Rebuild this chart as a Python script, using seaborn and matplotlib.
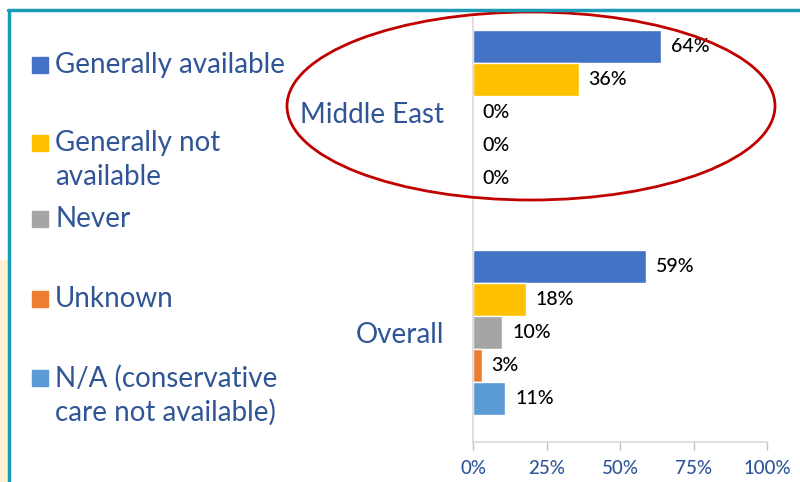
import pandas as pd
import seaborn as sns
import matplotlib.pyplot as plt
from matplotlib.patches import Ellipse, Rectangle
from matplotlib.lines import Line2D

regions = ['Middle East', 'Overall']
responses = ['Generally available', 'Generally not available', 'Never', 'Unknown',
             'N/A (conservative care not available)']
legend_labels = ['Generally available', 'Generally not\navailable', 'Never', 'Unknown',
                 'N/A (conservative\ncare not available)']
middle_east = [64, 36, 0, 0, 0]
overall = [59, 18, 10, 3, 11]
colors = ['#4472C4', '#FFC000', '#A5A5A5', '#ED7D31', '#5B9BD5']
xticks = [0, 25, 50, 75, 100]

df = pd.DataFrame({
    'Region': [regions[0]] * len(responses) + [regions[1]] * len(responses),
    'Response': responses * 2,
    'Percent': middle_east + overall,
})

sns.set_style('white')
plt.rcParams['font.family'] = ['Lato', 'DejaVu Sans']
text_blue = '#2F5597'

fig = plt.figure(figsize=(8, 4.82), dpi=100)
ax = fig.add_axes([473 / 800, 1 - 442 / 482, 294 / 800, 439.5 / 482])

sns.barplot(data=df, y='Region', x='Percent', hue='Response', hue_order=responses,
            palette=colors, saturation=1, orient='h', width=0.75, ax=ax, legend=False)

for cont, resp in zip(ax.containers, responses):
    vals = df[df['Response'] == resp]['Percent'].tolist()
    ax.bar_label(cont, labels=[f'{v}%' for v in vals], padding=7, fontsize=14,
                 color='black', fontweight='medium')

ax.set_xlim(0, 100)
ax.set_ylim(1.5, -0.5)
ax.set_xticks(xticks)
ax.set_xticklabels([f'{t}%' for t in xticks], color=text_blue, fontsize=13.5, fontweight='medium')
ax.set_xlabel('')
ax.set_ylabel('')
ax.tick_params(axis='x', length=6, color='#BFBFBF', width=1, pad=7, bottom=True)
ax.tick_params(axis='y', length=0, pad=21, labelsize=20, labelcolor=text_blue)
sns.despine(ax=ax, top=True, right=True)
for s in ['left', 'bottom']:
    ax.spines[s].set_color('#D9D9D9')
    ax.spines[s].set_linewidth(1.2)
ax.spines['left'].set_bounds(-0.44, 1.5)

# legend drawn by hand on the left
legend_y = [65, 143, 219, 299, 378]
for col, lab, y0 in zip(colors, legend_labels, legend_y):
    fig.patches.append(Rectangle((32 / 800, 1 - (y0 + 8) / 482), 16 / 800, 16 / 482,
                                 transform=fig.transFigure, color=col))
    for j, line in enumerate(lab.split('\n')):
        fig.text(55 / 800, 1 - (y0 + 34 * j) / 482, line, color=text_blue,
                 fontsize=20, va='center', ha='left')

# highlight ellipse around Middle East
fig.patches.append(Ellipse((531 / 800, 1 - 106 / 482), 488 / 800, 188 / 482,
                           transform=fig.transFigure, fill=False, edgecolor='#C00000', lw=2))

# slide frame
fig.patches.append(Rectangle((0, 0), 8 / 800, 1 - 260 / 482, transform=fig.transFigure,
                             color='#FFF0D2', zorder=0))
fig.lines.append(Line2D([8 / 800, 1], [1 - 10 / 482, 1 - 10 / 482], transform=fig.transFigure,
                        color='#1A9BB5', lw=2.5))
fig.lines.append(Line2D([9 / 800, 9 / 800], [0, 1 - 10 / 482], transform=fig.transFigure,
                        color='#1A9BB5', lw=2.5))

plt.savefig('out.png', dpi=100)
